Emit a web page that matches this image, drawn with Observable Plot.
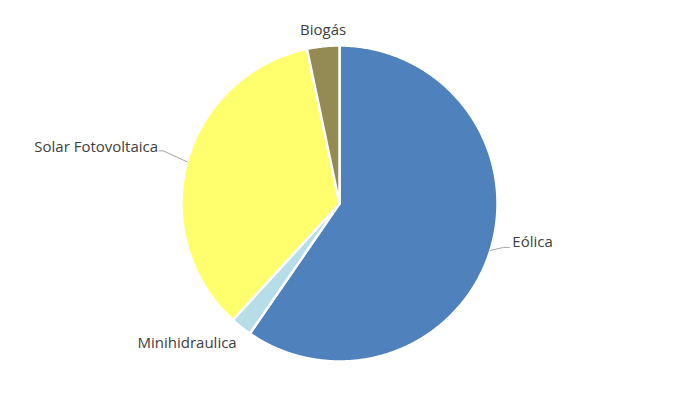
<!DOCTYPE html>
<html>
<head>
<meta charset="utf-8">
<script src="https://cdn.jsdelivr.net/npm/d3@7"></script>
<script src="https://cdn.jsdelivr.net/npm/@observablehq/plot@0.6"></script>
<style>
  html, body { margin: 0; padding: 0; background: #fff; }
  #chart { width: 674px; height: 405px; }
</style>
</head>
<body>
<div id="chart"></div>
<script>
// Data
const categories = ["Eólica", "Minihidraulica", "Solar Fotovoltaica", "Biogás"];
const shares = [59.6, 2.2, 34.9, 3.3];
const colors = ["#4f81bd", "#b7dee8", "#ffff6d", "#948a54"];

// Label layout (pixel offsets from the slice edge at mid-angle)
const labelStyle = [
  {dx: 22, dy: -8, anchor: "start", leader: [[13, -3], [19, -3]]},
  {dx: -54, dy: 16, anchor: "middle", leader: null},
  {dx: -29, dy: -15, anchor: "end", leader: [[-24, -11], [-28, -11]]},
  {dx: 0, dy: -16, anchor: "middle", leader: null}
];

const W = 674, H = 405, R = 158, CX = 339, CY = 203;

const pie = d3.pie().sort(null).value(d => d.value).startAngle(0).endAngle(2 * Math.PI);
const arcs = pie(categories.map((c, i) => ({name: c, value: shares[i], color: colors[i]})));

// slice polygons (data units: y up, 1 unit = 1 px)
const pts = [];
arcs.forEach((a, i) => {
  const n = Math.max(2, Math.ceil((a.endAngle - a.startAngle) / (Math.PI / 360)));
  pts.push({name: a.data.name, x: 0, y: 0, o: 0});
  for (let k = 0; k <= n; k++) {
    const t = a.startAngle + (a.endAngle - a.startAngle) * k / n;
    pts.push({name: a.data.name, x: R * Math.sin(t), y: R * Math.cos(t), o: k + 1});
  }
  pts.push({name: a.data.name, x: 0, y: 0, o: n + 2});
});

const labels = [];
const leaders = [];
arcs.forEach((a, i) => {
  const m = (a.startAngle + a.endAngle) / 2;
  const ex = R * Math.sin(m), ey = R * Math.cos(m);
  const s = labelStyle[i];
  labels.push({name: a.data.name, x: ex + s.dx, y: ey - s.dy, anchor: s.anchor});
  if (s.leader) {
    leaders.push({name: a.data.name, x: ex, y: ey});
    s.leader.forEach(([lx, ly]) => leaders.push({name: a.data.name, x: ex + lx, y: ey - ly}));
  }
});

const plot = Plot.plot({
  width: W,
  height: H,
  margin: 0,
  x: {domain: [-CX, W - CX], axis: null},
  y: {domain: [-(H - CY), CY], axis: null},
  color: {domain: categories, range: colors},
  style: {fontFamily: "'Open Sans', Lato, sans-serif", background: "#fff"},
  marks: [
    Plot.line(pts, {x: "x", y: "y", z: "name", fill: "name", stroke: "#ffffff", strokeWidth: 2.5, strokeLinejoin: "round", curve: "linear"}),
    Plot.line(leaders, {x: "x", y: "y", z: "name", stroke: "#a6a6a6", strokeWidth: 1}),
    ...["start", "middle", "end"].map(anc =>
      Plot.text(labels.filter(d => d.anchor === anc), {x: "x", y: "y", text: "name", textAnchor: anc, fontSize: 15, fill: "#404040"})
    )
  ]
});
document.getElementById("chart").appendChild(plot);
</script>
</body>
</html>
